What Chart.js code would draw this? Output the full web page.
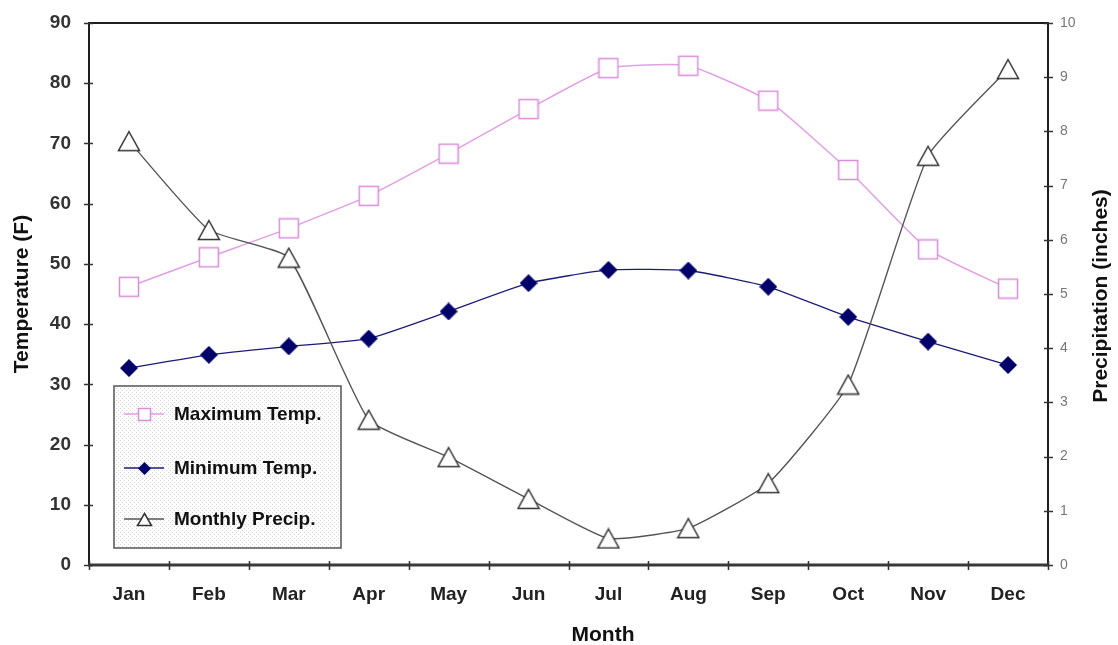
<!DOCTYPE html>
<html>
<head>
<meta charset="utf-8">
<script src="https://cdn.jsdelivr.net/npm/chart.js@4/dist/chart.umd.min.js"></script>
<style>
html,body{margin:0;padding:0;background:#fff;}
#wrap{width:1118px;height:645px;position:relative;}
canvas{display:block;}
</style>
</head>
<body>
<div id="wrap"><canvas id="c" width="1118" height="645"></canvas></div>
<script>
const months = ['Jan','Feb','Mar','Apr','May','Jun','Jul','Aug','Sep','Oct','Nov','Dec'];
const maxTemp = [46.2, 51.1, 55.9, 61.3, 68.3, 75.7, 82.5, 82.9, 77.1, 65.6, 52.4, 45.9];
const minTemp = [32.7, 34.9, 36.3, 37.6, 42.1, 46.8, 49.0, 48.9, 46.2, 41.2, 37.1, 33.2];
const precip  = [7.82, 6.18, 5.67, 2.68, 1.99, 1.22, 0.49, 0.68, 1.51, 3.33, 7.55, 9.15];
const tempTicks = [0, 10, 20, 30, 40, 50, 60, 70, 80, 90];
const precipTicks = [0, 1, 2, 3, 4, 5, 6, 7, 8, 9, 10];
const seriesNames = ['Maximum Temp.', 'Minimum Temp.', 'Monthly Precip.'];

const FONT = "'Liberation Sans', Arial, sans-serif";
const PINK = '#e49ee4', PINK_MK = '#dc8cdc';
const NAVY = '#00006a', NAVY_LINE = '#1c1c78';
const GRAY_LINE = '#555555', GRAY_MK = '#333333';
const TENSION = 0.15;

function mk(w, h, draw) {
  const c = document.createElement('canvas');
  c.width = w; c.height = h;
  draw(c.getContext('2d'), w, h);
  return c;
}
function squareMarker(s) {
  return mk(s + 3, s + 3, (g) => {
    g.fillStyle = '#fff'; g.strokeStyle = PINK_MK; g.lineWidth = 1.5;
    g.fillRect(1.5, 1.5, s, s); g.strokeRect(1.5, 1.5, s, s);
  });
}
function diamondMarker(s) {
  return mk(s, s, (g) => {
    g.fillStyle = NAVY; g.beginPath();
    g.moveTo(s / 2, 0); g.lineTo(s, s / 2); g.lineTo(s / 2, s); g.lineTo(0, s / 2);
    g.closePath(); g.fill();
  });
}
function triangleMarker(w, h) {
  return mk(w + 3, h + 3, (g) => {
    g.fillStyle = '#fff'; g.strokeStyle = GRAY_MK; g.lineWidth = 1.5;
    g.beginPath();
    g.moveTo((w + 3) / 2, 1.5); g.lineTo(w + 1.5, h + 1.5); g.lineTo(1.5, h + 1.5);
    g.closePath(); g.fill(); g.stroke();
  });
}
const sqBig = squareMarker(19), diaBig = diamondMarker(18), triBig = triangleMarker(21, 19);
const sqSm = squareMarker(12), diaSm = diamondMarker(13), triSm = triangleMarker(14, 12);

const dotPat = mk(4, 4, (g) => {
  g.fillStyle = '#ffffff'; g.fillRect(0, 0, 4, 4);
  g.fillStyle = '#d4d4d4'; g.fillRect(0, 0, 1, 1); g.fillRect(2, 2, 1, 1);
});

const decor = {
  id: 'decor',
  beforeDatasetsDraw(chart) {
    const { ctx, chartArea: a, scales } = chart;
    ctx.save();
    ctx.strokeStyle = '#1e1e1e'; ctx.lineWidth = 2;
    ctx.strokeRect(a.left, a.top, a.right - a.left, a.bottom - a.top);
    ctx.strokeStyle = '#3a3a3a'; ctx.lineWidth = 3;
    ctx.beginPath(); ctx.moveTo(a.left - 1, a.bottom); ctx.lineTo(a.right + 1, a.bottom); ctx.stroke();
    ctx.strokeStyle = '#333'; ctx.lineWidth = 1.5;
    ctx.beginPath();
    scales.y.ticks.forEach((t) => {
      const y = Math.round(scales.y.getPixelForValue(t.value)) + 0.5;
      ctx.moveTo(a.left - 5, y); ctx.lineTo(a.left + 4, y);
    });
    scales.y1.ticks.forEach((t) => {
      const y = Math.round(scales.y1.getPixelForValue(t.value)) + 0.5;
      ctx.moveTo(a.right - 4, y); ctx.lineTo(a.right + 5, y);
    });
    for (let i = 0; i <= months.length; i++) {
      const x = Math.round(scales.x.getPixelForValue(i - 0.5)) + 0.5;
      ctx.moveTo(x, a.bottom - 4); ctx.lineTo(x, a.bottom + 5);
    }
    ctx.stroke();
    ctx.restore();
  },
  afterDatasetsDraw(chart) {
    const { ctx, chartArea: a } = chart;
    ctx.save();
    const lx = a.left + 25, ly = a.bottom - 179, lw = 227, lh = 162;
    ctx.fillStyle = ctx.createPattern(dotPat, 'repeat');
    ctx.fillRect(lx, ly, lw, lh);
    ctx.strokeStyle = '#555'; ctx.lineWidth = 1.5;
    ctx.strokeRect(lx, ly, lw, lh);
    const rows = [
      { y: ly + 28, color: PINK, mk: sqSm },
      { y: ly + 82, color: NAVY_LINE, mk: diaSm },
      { y: ly + 133, color: GRAY_LINE, mk: triSm }
    ];
    ctx.font = 'bold 19px ' + FONT;
    ctx.textBaseline = 'middle'; ctx.textAlign = 'left';
    rows.forEach((r, i) => {
      ctx.strokeStyle = r.color; ctx.lineWidth = 1.3;
      ctx.beginPath(); ctx.moveTo(lx + 10, r.y); ctx.lineTo(lx + 50, r.y); ctx.stroke();
      ctx.drawImage(r.mk, Math.round(lx + 30 - r.mk.width / 2), Math.round(r.y - r.mk.height / 2));
      ctx.fillStyle = '#111';
      ctx.fillText(seriesNames[i], lx + 60, r.y + 1);
    });
    ctx.restore();
  },
  afterDraw(chart) {
    const { ctx, chartArea: a } = chart;
    ctx.save();
    ctx.fillStyle = '#111';
    ctx.font = 'bold 21px ' + FONT;
    ctx.textAlign = 'center'; ctx.textBaseline = 'middle';
    ctx.fillText('Month', 603, 635);
    const cy = (a.top + a.bottom) / 2;
    ctx.translate(22, cy); ctx.rotate(-Math.PI / 2);
    ctx.fillText('Temperature (F)', 0, 0);
    ctx.setTransform(1, 0, 0, 1, 0, 0);
    ctx.translate(1101, cy + 2); ctx.rotate(-Math.PI / 2);
    ctx.fillText('Precipitation (inches)', 0, 0);
    ctx.restore();
  }
};

function fitV(w) {
  return (s) => { s.width = w; s.paddingTop = 0; s.paddingBottom = 0; };
}

new Chart(document.getElementById('c'), {
  type: 'line',
  data: {
    labels: months,
    datasets: [
      {
        label: seriesNames[2], data: precip, yAxisID: 'y1',
        borderColor: GRAY_LINE, borderWidth: 1.4, tension: TENSION,
        pointStyle: triBig, pointRadius: 11, fill: false, order: 1
      },
      {
        label: seriesNames[0], data: maxTemp, yAxisID: 'y',
        borderColor: PINK, borderWidth: 1.5, tension: TENSION,
        pointStyle: sqBig, pointRadius: 11, fill: false, order: 2
      },
      {
        label: seriesNames[1], data: minTemp, yAxisID: 'y',
        borderColor: NAVY_LINE, borderWidth: 1.3, tension: TENSION,
        pointStyle: diaBig, pointRadius: 9, fill: false, order: 3
      }
    ]
  },
  options: {
    responsive: false,
    animation: false,
    events: [],
    clip: false,
    layout: { padding: { top: 23, left: 0, right: 0, bottom: 0 } },
    plugins: { legend: { display: false }, tooltip: { enabled: false }, title: { display: false } },
    scales: {
      x: {
        type: 'category', offset: true,
        grid: { display: false, drawTicks: false }, border: { display: false },
        ticks: { font: { family: FONT, size: 19, weight: 'bold' }, color: '#222', padding: 18, maxRotation: 0 },
        afterFit: (s) => { s.height = 80; s.paddingLeft = 0; s.paddingRight = 0; }
      },
      y: {
        position: 'left', min: 0, max: 90,
        afterBuildTicks: (s) => { s.ticks = tempTicks.map(v => ({ value: v })); },
        grid: { display: false, drawTicks: false }, border: { display: false },
        ticks: { font: { family: FONT, size: 19, weight: 'bold' }, color: '#333', padding: 18 },
        afterFit: fitV(89)
      },
      y1: {
        position: 'right', min: 0, max: 10,
        afterBuildTicks: (s) => { s.ticks = precipTicks.map(v => ({ value: v })); },
        grid: { display: false, drawTicks: false }, border: { display: false },
        ticks: { font: { family: FONT, size: 14 }, color: '#777', padding: 12 },
        afterFit: fitV(70)
      }
    }
  },
  plugins: [decor]
});
</script>
</body>
</html>
